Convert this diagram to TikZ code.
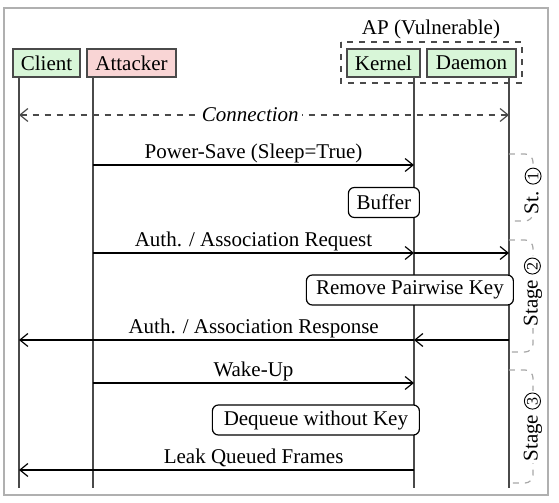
\documentclass[tikz,border=0pt]{standalone}
\usepackage{fontspec}
\setmainfont{Liberation Serif}
\usetikzlibrary{arrows.meta}
\definecolor{actgreen}{HTML}{D8F6D8}
\definecolor{actred}{HTML}{F9D5D5}
\definecolor{lifegray}{HTML}{4A4A4A}
\definecolor{framegray}{HTML}{B0B0B0}
\definecolor{stagegray}{HTML}{A8A8A8}
\newcommand{\circnum}[1]{\tikz[baseline=(cn.base)]\node[circle,draw,line width=0.45pt,inner sep=0.5pt,font=\fontsize{8}{9}\selectfont](cn){#1};}
\begin{document}
\begin{tikzpicture}[x=0.5pt,y=-0.5pt,
  >={Straight Barb[length=4pt,width=6.5pt]},
  every node/.style={font=\fontsize{10.5}{12.6}\selectfont, text=black},
  actor/.style={draw=lifegray, line width=0.6pt, minimum height=14pt, inner sep=0pt},
  life/.style={draw=lifegray, line width=0.6pt},
  msg/.style={draw=black, line width=0.6pt, ->},
  mlabel/.style={anchor=base, inner sep=0pt, yshift=3pt},
  action/.style={draw=black, rounded corners=3pt, fill=white, line width=0.6pt, minimum height=15pt, inner sep=0pt, anchor=east},
  stagebox/.style={draw=stagegray, dashed, rounded corners=4pt, line width=0.6pt},
  stagelabel/.style={rotate=90, fill=white, inner sep=1pt}]
\useasboundingbox (0,0) rectangle (559,503);
\draw[framegray, line width=1pt] (4,8) rectangle (548,495);

% AP group
\node (aptitle) at (431,29) {AP (Vulnerable)};
\draw[lifegray, dashed, line width=0.6pt] (341,42) rectangle (522,83);

% actors
\node[actor, fill=actgreen, minimum width=33.5pt] (client) at (46.5,63) {Client};
\node[actor, fill=actred, minimum width=44.5pt] (attacker) at (131.5,63) {Attacker};
\node[actor, fill=actgreen, minimum width=36.5pt] (kernel) at (383.5,63) {Kernel};
\node[actor, fill=actgreen, minimum width=44.5pt] (daemon) at (471.5,63) {Daemon};

% lifelines
\coordinate (clT) at (19,77);  \coordinate (clB) at (19,488);
\coordinate (atT) at (93,77);  \coordinate (atB) at (93,488);
\coordinate (keT) at (414,77); \coordinate (keB) at (414,488);
\coordinate (daT) at (509,77); \coordinate (daB) at (509,488);
\draw[life] (clT) -- (clB);
\draw[life] (atT) -- (atB);
\draw[life] (keT) -- (keB);
\draw[life] (daT) -- (daB);

% connection
\coordinate (con1) at (19,115); \coordinate (con2) at (509,115);
\draw[lifegray, dashed, line width=0.6pt, <->] (con1) -- node[pos=0.472, fill=white, inner sep=1.5pt, font=\fontsize{10.5}{12.6}\selectfont\itshape] (conlbl) {Connection} (con2);

% stage 1
\coordinate (ps1) at (93,165); \coordinate (ps2) at (414,165);
\draw[msg] (ps1) -- node[mlabel, midway] (pslbl) {Power-Save (Sleep=True)} (ps2);
\node[action, minimum width=35.5pt] (buffer) at (420,202.5) {Buffer};

% stage 2
\coordinate (ar1) at (93,253); \coordinate (ar2) at (414,253); \coordinate (ar3) at (509,253);
\draw[msg] (ar1) -- node[mlabel, midway] (arlbl) {Auth. / Association Request} (ar2);
\draw[msg] (ar2) -- (ar3);
\node[action, minimum width=103.5pt] (remove) at (514,290) {Remove Pairwise Key};
\coordinate (rs1) at (509,340); \coordinate (rs2) at (414,340); \coordinate (rs3) at (19,340);
\draw[msg] (rs1) -- (rs2);
\draw[msg] (rs2) -- node[mlabel, pos=0.406] (rslbl) {Auth. / Association Response} (rs3);

% stage 3
\coordinate (wu1) at (93,383); \coordinate (wu2) at (414,383);
\draw[msg] (wu1) -- node[mlabel, midway] (wulbl) {Wake-Up} (wu2);
\node[action, minimum width=103.5pt] (dequeue) at (420,420) {Dequeue without Key};
\coordinate (lk1) at (414,470); \coordinate (lk2) at (19,470);
\draw[msg] (lk1) -- node[mlabel, pos=0.406] (lklbl) {Leak Queued Frames} (lk2);

% stage brackets
\coordinate (s1a) at (509,154); \coordinate (s1b) at (533,154); \coordinate (s1c) at (533,221); \coordinate (s1d) at (509,221);
\draw[stagebox] (s1a) -- (s1b) -- (s1c) -- (s1d);
\node[stagelabel] (s1lbl) at (533,191) {St. \circnum{1}};

\coordinate (s2a) at (509,240); \coordinate (s2b) at (533,240); \coordinate (s2c) at (533,352); \coordinate (s2d) at (509,352);
\draw[stagebox] (s2a) -- (s2b) -- (s2c) -- (s2d);
\node[stagelabel] (s2lbl) at (533,292) {Stage \circnum{2}};

\coordinate (s3a) at (509,370); \coordinate (s3b) at (533,370); \coordinate (s3c) at (533,483); \coordinate (s3d) at (509,483);
\draw[stagebox] (s3a) -- (s3b) -- (s3c) -- (s3d);
\node[stagelabel] (s3lbl) at (533,427) {Stage \circnum{3}};
\end{tikzpicture}
\end{document}
